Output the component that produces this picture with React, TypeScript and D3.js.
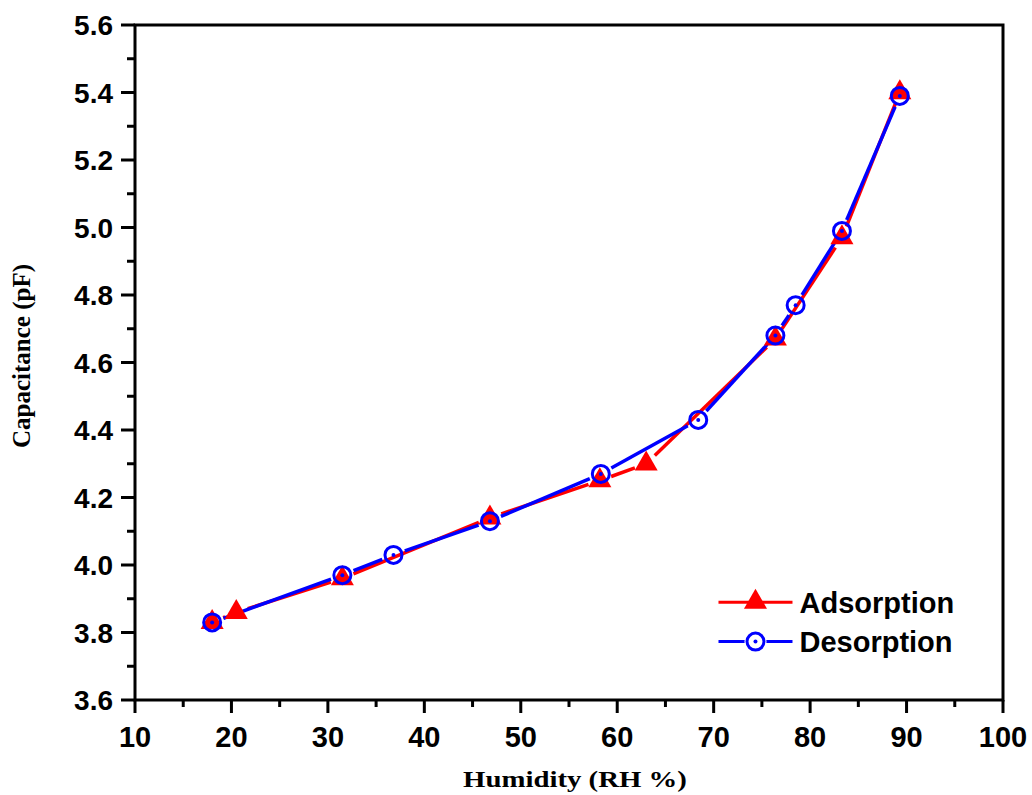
import React from 'react';
import * as d3 from 'd3';

// values
const adsHumidity = [18, 20.5, 31.5, 46.8, 58.2, 63, 76.4, 83.3, 89.3];
const adsCapacitance = [3.83, 3.86, 3.96, 4.14, 4.25, 4.30, 4.67, 4.97, 5.40];
const desHumidity = [18, 31.5, 36.8, 46.8, 58.3, 68.4, 76.4, 78.5, 83.3, 89.3];
const desCapacitance = [3.83, 3.97, 4.03, 4.13, 4.27, 4.43, 4.68, 4.77, 4.99, 5.39];
const xTicks = [10, 20, 30, 40, 50, 60, 70, 80, 90, 100];
const yTicks = [3.6, 3.8, 4.0, 4.2, 4.4, 4.6, 4.8, 5.0, 5.2, 5.4, 5.6];

const RED = '#ff0000';
const BLUE = '#0000ff';

const margin = { top: 25, right: 29, bottom: 95, left: 135 };
const W = 1032;
const H = 795;
const width = W - margin.left - margin.right;
const height = H - margin.top - margin.bottom;

const x = d3.scaleLinear().domain([10, 100]).range([0, width]);
const y = d3.scaleLinear().domain([3.6, 5.6]).range([height, 0]);

const triPath = d3.symbol().type(d3.symbolTriangle).size(230)() as string;

// line segments that stop short of the markers
function gappedSegments(xs: number[], ys: number[], gap: number) {
  const segs: { x1: number; y1: number; x2: number; y2: number }[] = [];
  for (let i = 0; i < xs.length - 1; i++) {
    const ax = x(xs[i]), ay = y(ys[i]);
    const bx = x(xs[i + 1]), by = y(ys[i + 1]);
    const len = Math.hypot(bx - ax, by - ay);
    if (len <= gap * 2) continue;
    const ux = (bx - ax) / len, uy = (by - ay) / len;
    segs.push({ x1: ax + ux * gap, y1: ay + uy * gap, x2: bx - ux * gap, y2: by - uy * gap });
  }
  return segs;
}

const Triangle = ({ cx, cy }: { cx: number; cy: number }) => (
  <path d={triPath} transform={`translate(${cx},${cy})`} fill={RED} />
);

const Ring = ({ cx, cy }: { cx: number; cy: number }) => (
  <g>
    <circle cx={cx} cy={cy} r={8.5} fill="none" stroke={BLUE} strokeWidth={3} />
    <circle cx={cx} cy={cy} r={2} fill={BLUE} />
  </g>
);

export default function App() {
  const adsSegs = gappedSegments(adsHumidity, adsCapacitance, 12);
  const desSegs = gappedSegments(desHumidity, desCapacitance, 12);
  const xMinor = d3.range(15, 100, 10);
  const yMinor = d3.range(3.7, 5.6, 0.2);
  const sans = '"Liberation Sans", Arial, sans-serif';
  const serif = '"Liberation Serif", "Times New Roman", serif';

  return (
    <div>
      <style>{'body{margin:0;background:#fff}'}</style>
      <svg width={W} height={H} style={{ display: 'block' }}>
        <rect width={W} height={H} fill="#fff" />
        <g transform={`translate(${margin.left},${margin.top})`}>
          {/* data lines */}
          {adsSegs.map((s, i) => (
            <line key={'a' + i} {...s} stroke={RED} strokeWidth={3.5} />
          ))}
          {desSegs.map((s, i) => (
            <line key={'d' + i} {...s} stroke={BLUE} strokeWidth={3.5} />
          ))}
          {adsHumidity.map((h, i) => (
            <Triangle key={'ta' + i} cx={x(h)} cy={y(adsCapacitance[i])} />
          ))}
          {desHumidity.map((h, i) => (
            <Ring key={'rd' + i} cx={x(h)} cy={y(desCapacitance[i])} />
          ))}

          {/* frame */}
          <rect x={0} y={0} width={width} height={height} fill="none" stroke="#000" strokeWidth={3} />

          {/* y axis */}
          {yTicks.map((t) => (
            <g key={'y' + t} transform={`translate(0,${y(t)})`}>
              <line x1={-14} x2={0} stroke="#000" strokeWidth={3} />
              <text x={-22} dy="0.36em" textAnchor="end" fontFamily={sans} fontWeight="bold" fontSize={28}>
                {t.toFixed(1)}
              </text>
            </g>
          ))}
          {yMinor.map((t) => (
            <line key={'ym' + t} x1={-8} x2={0} y1={y(t)} y2={y(t)} stroke="#000" strokeWidth={3} />
          ))}

          {/* x axis */}
          {xTicks.map((t) => (
            <g key={'x' + t} transform={`translate(${x(t)},${height})`}>
              <line y1={0} y2={13} stroke="#000" strokeWidth={3} />
              <text y={47} textAnchor="middle" fontFamily={sans} fontWeight="bold" fontSize={29}>
                {t}
              </text>
            </g>
          ))}
          {xMinor.map((t) => (
            <line key={'xm' + t} x1={x(t)} x2={x(t)} y1={height} y2={height + 7} stroke="#000" strokeWidth={3} />
          ))}

          {/* axis titles */}
          <text
            transform={`translate(${575 - margin.left},${height + 87}) scale(1.2,1)`}
            textAnchor="middle"
            fontFamily={serif}
            fontWeight="bold"
            fontSize={24}
          >
            Humidity (RH %)
          </text>
          <text
            transform={`translate(${-105},${356 - margin.top}) rotate(-90)`}
            textAnchor="middle"
            fontFamily={serif}
            fontWeight="bold"
            fontSize={25}
          >
            Capacitance (pF)
          </text>

          {/* legend */}
          <g transform={`translate(${x(70.5)},${y(3.89)})`}>
            <line x1={0} x2={74} stroke={RED} strokeWidth={3} />
            <Triangle cx={37} cy={0} />
            <text x={81} dy="0.36em" fontFamily={sans} fontWeight="bold" fontSize={29}>
              Adsorption
            </text>
          </g>
          <g transform={`translate(${x(70.5)},${y(3.773)})`}>
            <line x1={0} x2={74} stroke={BLUE} strokeWidth={3} />
            <circle cx={37} cy={0} r={11} fill="#fff" />
            <Ring cx={37} cy={0} />
            <text x={81} dy="0.36em" fontFamily={sans} fontWeight="bold" fontSize={29}>
              Desorption
            </text>
          </g>
        </g>
      </svg>
    </div>
  );
}
